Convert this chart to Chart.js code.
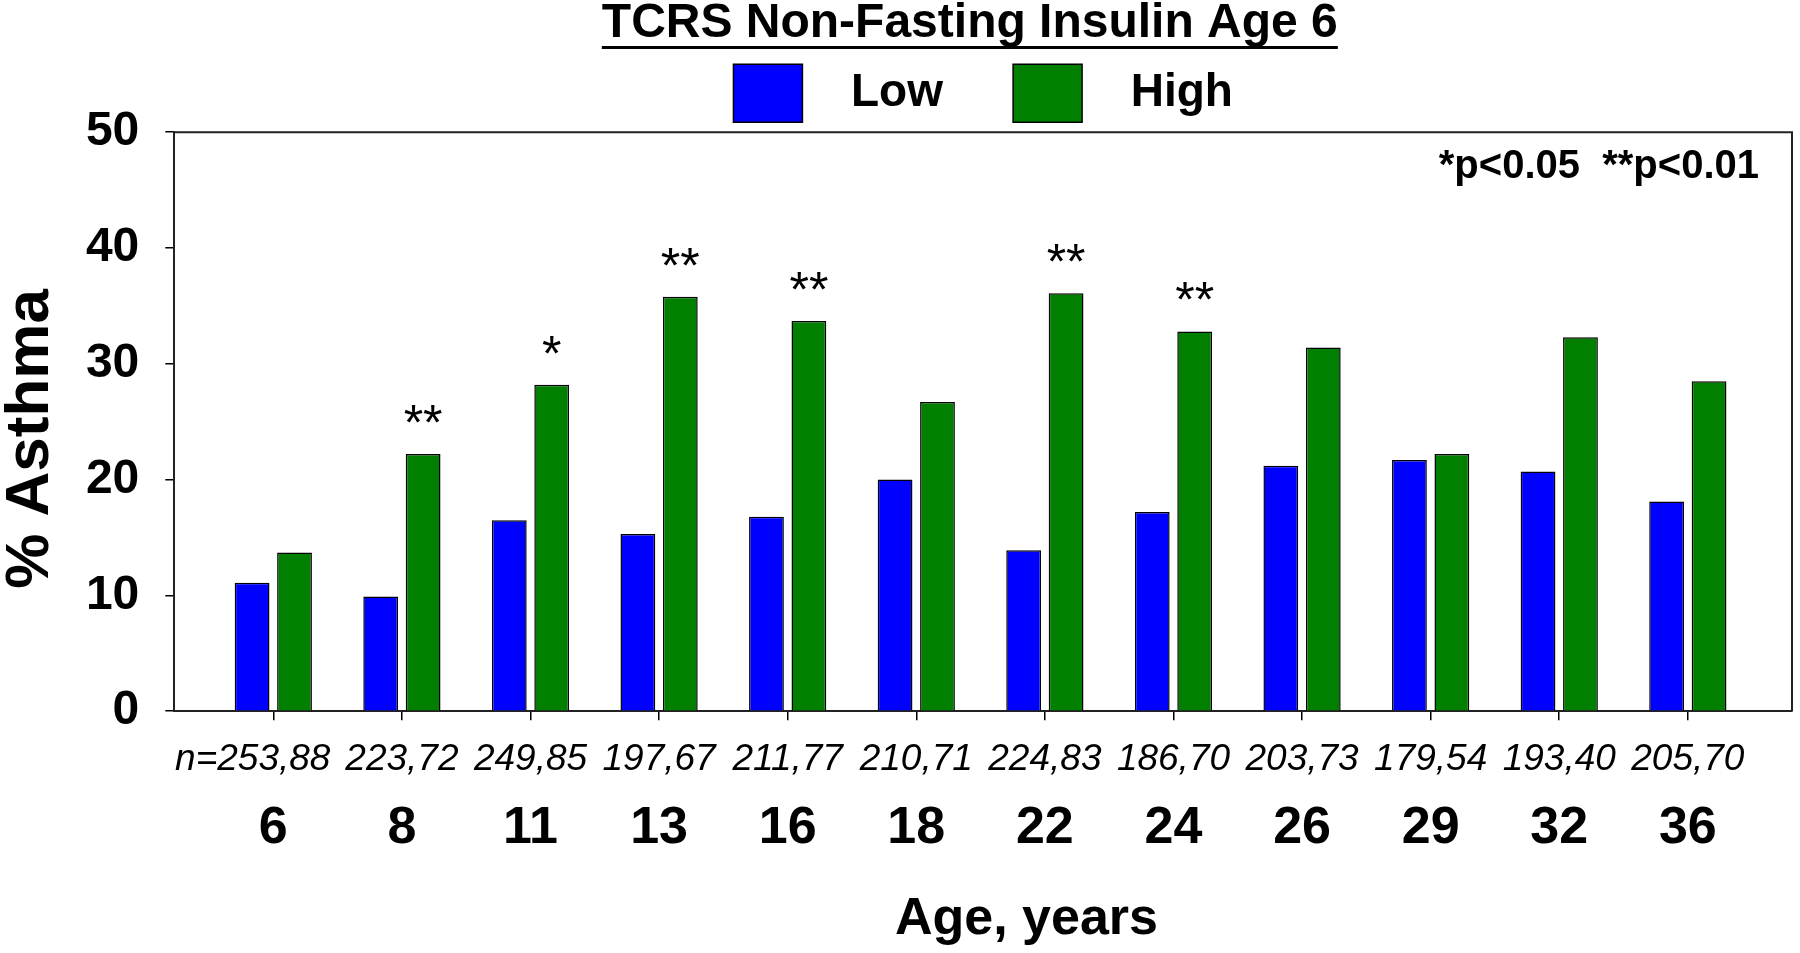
<!DOCTYPE html>
<html>
<head>
<meta charset="utf-8">
<title>TCRS Non-Fasting Insulin Age 6</title>
<script src="https://cdn.jsdelivr.net/npm/chart.js@4"></script>
<style>
  html, body { margin: 0; padding: 0; background: #fff; }
  #wrap { width: 1800px; height: 953px; }
</style>
</head>
<body>
<div id="wrap"><canvas id="asthma"></canvas></div>
<script>
const ages = ['6', '8', '11', '13', '16', '18', '22', '24', '26', '29', '32', '36'];
const nLabels = ['n=253,88', '223,72', '249,85', '197,67', '211,77', '210,71',
                 '224,83', '186,70', '203,73', '179,54', '193,40', '205,70'];
const lowValues = [11.1, 9.9, 16.5, 15.3, 16.8, 20.0, 13.9, 17.2, 21.2, 21.7, 20.7, 18.1];
const highValues = [13.7, 22.2, 28.2, 35.8, 33.7, 26.7, 36.1, 32.8, 31.4, 22.2, 32.3, 28.5];
const stars = ['', '**', '*', '**', '**', '', '**', '**', '', '', '', ''];
const yTicks = [0, 10, 20, 30, 40, 50];
const titleText = 'TCRS Non-Fasting Insulin Age 6';
const pNote = '*p<0.05  **p<0.01';

const FONT = "'Liberation Sans', Arial, sans-serif";
Chart.defaults.font.family = FONT;
Chart.defaults.color = '#000';

// index axis is linear so the margins left/right of the groups can differ
const xMin = -0.77;
const xMax = 11.81;
const ageTicks = axis => { axis.ticks = ages.map((a, i) => ({ value: i })); };

// box round the plot (top and right sides)
const plotFrame = {
    id: 'plotFrame',
    beforeDatasetsDraw(chart) {
        const { ctx, chartArea: { left, top, right, bottom } } = chart;
        ctx.save();
        ctx.strokeStyle = '#222';
        ctx.lineWidth = 2;
        ctx.beginPath();
        ctx.moveTo(left, top);
        ctx.lineTo(right, top);
        ctx.lineTo(right, bottom);
        ctx.stroke();
        ctx.restore();
    }
};

// significance stars, p-value note, title underline
const notes = {
    id: 'notes',
    afterDraw(chart) {
        const { ctx, chartArea } = chart;
        ctx.save();
        ctx.fillStyle = '#000';
        ctx.textAlign = 'center';
        ctx.textBaseline = 'alphabetic';
        ctx.font = '50px ' + FONT;
        chart.getDatasetMeta(1).data.forEach((bar, i) => {
            if (stars[i]) ctx.fillText(stars[i], bar.x, bar.y - 14);
        });

        ctx.font = 'bold 40px ' + FONT;
        ctx.textAlign = 'right';
        ctx.fillText(pNote, chartArea.right - 33, chartArea.top + 46);

        const t = chart.titleBlock;
        ctx.font = 'bold 48px ' + FONT;
        const full = ctx.measureText(chart.options.plugins.title.text).width;
        const shown = ctx.measureText(titleText).width;
        const x0 = (t.left + t.right) / 2 - full / 2;
        ctx.fillRect(x0, t.top + 46, shown, 3);
        ctx.restore();
    }
};

new Chart(document.getElementById('asthma'), {
    type: 'bar',
    data: {
        datasets: [{
            label: 'Low',
            data: lowValues.map((v, i) => ({ x: i, y: v })),
            backgroundColor: '#0000ff',
            borderColor: '#000',
            borderWidth: 1.5,
        }, {
            label: 'High',
            data: highValues.map((v, i) => ({ x: i, y: v })),
            backgroundColor: '#007f00',
            borderColor: '#000',
            borderWidth: 1.5,
        }]
    },
    options: {
        responsive: true,
        maintainAspectRatio: false,
        animation: false,
        categoryPercentage: 0.66,
        barPercentage: 0.82,
        layout: { padding: { left: 0, right: 8, top: 0, bottom: 0 } },
        scales: {
            x: {
                type: 'linear',
                min: xMin,
                max: xMax,
                bounds: 'data',
                offset: false,
                afterBuildTicks: ageTicks,
                grid: { offset: false, drawOnChartArea: false, tickLength: 9, color: '#000', lineWidth: 1.5 },
                border: { color: '#222', width: 2 },
                ticks: {
                    // "n=" hangs out to the left of the first number
                    callback: v => v === 0 ? nLabels[0] + '    ' : nLabels[v],
                    font: { size: 37, style: 'italic' },
                    padding: 17,
                    maxRotation: 0,
                    autoSkip: false,
                },
            },
            x2: {
                type: 'linear',
                position: 'bottom',
                weight: 1,
                min: xMin,
                max: xMax,
                bounds: 'data',
                offset: false,
                afterBuildTicks: ageTicks,
                grid: { display: false, drawTicks: false, offset: false },
                border: { display: false },
                ticks: {
                    callback: v => ages[v],
                    font: { size: 52, weight: 'bold', lineHeight: 1.1 },
                    padding: 1,
                    maxRotation: 0,
                    autoSkip: false,
                },
                title: {
                    display: true,
                    // sits a bit right of the plot centre in the original
                    text: '      Age, years',
                    font: { size: 52, weight: 'bold', lineHeight: 1.1 },
                    padding: { top: 33, bottom: 5 },
                },
            },
            y: {
                min: yTicks[0],
                max: yTicks[yTicks.length - 1],
                afterBuildTicks: axis => { axis.ticks = yTicks.map(v => ({ value: v })); },
                grid: { drawOnChartArea: false, tickLength: 9, color: '#000', lineWidth: 1.5 },
                border: { color: '#222', width: 2 },
                ticks: { font: { size: 48, weight: 'bold' }, padding: 26 },
                title: {
                    display: true,
                    text: '% Asthma  ',
                    font: { size: 62, weight: 'bold', lineHeight: 0.95 },
                    padding: { top: 1, bottom: 0 },
                },
            },
        },
        plugins: {
            title: {
                display: true,
                fullSize: false,
                text: titleText + '  ',
                color: '#000',
                font: { size: 48, weight: 'bold', lineHeight: 0.9 },
                padding: { top: 2, bottom: 0 },
            },
            legend: {
                fullSize: false,
                labels: {
                    boxWidth: 69,
                    boxHeight: 58,
                    padding: 19,
                    color: '#000',
                    font: { size: 46, weight: 'bold' },
                    generateLabels: chart => Chart.defaults.plugins.legend.labels.generateLabels(chart)
                        .map((item, i) => ({ ...item, text: i === 0 ? '  ' + item.text + '    ' : '  ' + item.text })),
                },
            },
            tooltip: { enabled: false },
        },
    },
    plugins: [plotFrame, notes],
});
</script>
</body>
</html>
